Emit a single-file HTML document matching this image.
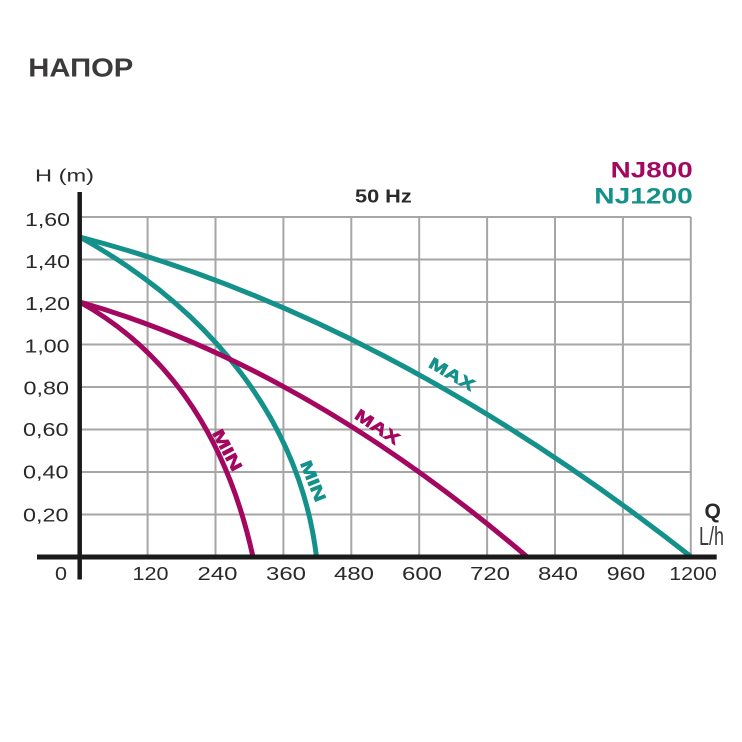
<!DOCTYPE html>
<html>
<head>
<meta charset="utf-8">
<style>
  html, body { margin: 0; padding: 0; background: #ffffff; }
  svg { display: block; }
  text { font-family: "Liberation Sans", Arial, sans-serif; }
</style>
</head>
<body>
<svg width="742" height="742" viewBox="0 0 742 742" xmlns="http://www.w3.org/2000/svg">
  <rect x="0" y="0" width="742" height="742" fill="#ffffff"/>

  <!-- Title -->
  <text x="28.3" y="76.7" font-size="25.7" font-weight="bold" fill="#3c393b" textLength="105" lengthAdjust="spacingAndGlyphs">НАПОР</text>

  <!-- Grid -->
  <g stroke="#a6a6a6" stroke-width="2" fill="none">
    <line x1="79.7" y1="217" x2="690.8" y2="217"/>
    <line x1="79.7" y1="259.5" x2="690.8" y2="259.5"/>
    <line x1="79.7" y1="302" x2="690.8" y2="302"/>
    <line x1="79.7" y1="344.5" x2="690.8" y2="344.5"/>
    <line x1="79.7" y1="387" x2="690.8" y2="387"/>
    <line x1="79.7" y1="429.5" x2="690.8" y2="429.5"/>
    <line x1="79.7" y1="472" x2="690.8" y2="472"/>
    <line x1="79.7" y1="514.5" x2="690.8" y2="514.5"/>

    <line x1="147.6" y1="217" x2="147.6" y2="557"/>
    <line x1="215.5" y1="217" x2="215.5" y2="557"/>
    <line x1="283.4" y1="217" x2="283.4" y2="557"/>
    <line x1="351.3" y1="217" x2="351.3" y2="557"/>
    <line x1="419.2" y1="217" x2="419.2" y2="557"/>
    <line x1="487.1" y1="217" x2="487.1" y2="557"/>
    <line x1="555" y1="217" x2="555" y2="557"/>
    <line x1="622.9" y1="217" x2="622.9" y2="557"/>
    <line x1="690.8" y1="217" x2="690.8" y2="557"/>
  </g>

  <!-- Curves -->
  <g fill="none" stroke-width="5">
    <path d="M79.7,237 Q385.2,316.4 690.8,556.5" stroke="#13918a"/>
    <path d="M79.7,237 C209.7,309 300,420 316.5,557" stroke="#13918a"/>
    <path d="M79.7,302 Q303.2,365.9 526.7,556.5" stroke="#a3075f"/>
    <path d="M79.7,302 C175,355 228.8,446 253,557" stroke="#a3075f"/>
  </g>

  <!-- Axes -->
  <line x1="79.7" y1="192" x2="79.7" y2="579.5" stroke="#1a1a1a" stroke-width="4.5"/>
  <line x1="37" y1="557" x2="716.7" y2="557" stroke="#1a1a1a" stroke-width="5"/>

  <!-- Curve labels -->
  <g font-size="16.5" font-weight="bold" text-anchor="middle" stroke-width="0.6">
    <text transform="translate(452,374) rotate(30)" x="0" y="5.8" fill="#13918a" stroke="#13918a" textLength="50" lengthAdjust="spacingAndGlyphs">MAX</text>
    <text transform="translate(377.5,426.7) rotate(33.5)" x="0" y="5.8" fill="#a3075f" stroke="#a3075f" textLength="50" lengthAdjust="spacingAndGlyphs">MAX</text>
    <text transform="translate(227.5,450) rotate(62)" x="0" y="5.8" fill="#a3075f" stroke="#a3075f" textLength="45" lengthAdjust="spacingAndGlyphs">MIN</text>
    <text transform="translate(313.3,481) rotate(68)" x="0" y="5.8" fill="#13918a" stroke="#13918a" textLength="43" lengthAdjust="spacingAndGlyphs">MIN</text>
  </g>

  <!-- Axis titles -->
  <text x="35" y="181.7" font-size="17.5" fill="#2a2a2a" textLength="59" lengthAdjust="spacingAndGlyphs">H (m)</text>
  <text x="355" y="202.7" font-size="18.5" font-weight="bold" fill="#2a2a2a" textLength="56.7" lengthAdjust="spacingAndGlyphs">50 Hz</text>
  <text x="610.7" y="177.3" font-size="21.8" font-weight="bold" fill="#a3075f" textLength="82" lengthAdjust="spacingAndGlyphs">NJ800</text>
  <text x="594.3" y="203.3" font-size="21.8" font-weight="bold" fill="#13918a" textLength="98.4" lengthAdjust="spacingAndGlyphs">NJ1200</text>
  <text x="704.5" y="518" font-size="21" font-weight="bold" fill="#2a2a2a">Q</text>
  <text x="699" y="545" font-size="26" fill="#3a3a3a" textLength="25" lengthAdjust="spacingAndGlyphs">L/h</text>

  <!-- Y tick labels -->
  <g font-size="18.5" fill="#2a2a2a" text-anchor="end">
    <text x="70" y="226" textLength="45" lengthAdjust="spacingAndGlyphs">1,60</text>
    <text x="70" y="268" textLength="45" lengthAdjust="spacingAndGlyphs">1,40</text>
    <text x="70" y="310" textLength="45" lengthAdjust="spacingAndGlyphs">1,20</text>
    <text x="69.5" y="352.5" textLength="45" lengthAdjust="spacingAndGlyphs">1,00</text>
    <text x="69" y="394.5" textLength="45.5" lengthAdjust="spacingAndGlyphs">0,80</text>
    <text x="68.5" y="436" textLength="45.5" lengthAdjust="spacingAndGlyphs">0,60</text>
    <text x="68.5" y="478.3" textLength="45.5" lengthAdjust="spacingAndGlyphs">0,40</text>
    <text x="68.5" y="521.5" textLength="45.5" lengthAdjust="spacingAndGlyphs">0,20</text>
  </g>

  <!-- X tick labels -->
  <g font-size="18.5" fill="#2a2a2a" text-anchor="middle">
    <text x="61" y="580" textLength="12" lengthAdjust="spacingAndGlyphs">0</text>
    <text x="150.5" y="580" textLength="36" lengthAdjust="spacingAndGlyphs">120</text>
    <text x="217.5" y="580" textLength="40" lengthAdjust="spacingAndGlyphs">240</text>
    <text x="286" y="580" textLength="40" lengthAdjust="spacingAndGlyphs">360</text>
    <text x="354" y="580" textLength="40" lengthAdjust="spacingAndGlyphs">480</text>
    <text x="422" y="580" textLength="40" lengthAdjust="spacingAndGlyphs">600</text>
    <text x="490" y="580" textLength="40" lengthAdjust="spacingAndGlyphs">720</text>
    <text x="558" y="580" textLength="40" lengthAdjust="spacingAndGlyphs">840</text>
    <text x="626" y="580" textLength="38.5" lengthAdjust="spacingAndGlyphs">960</text>
    <text x="693" y="580" textLength="47.5" lengthAdjust="spacingAndGlyphs">1200</text>
  </g>
</svg>
</body>
</html>
